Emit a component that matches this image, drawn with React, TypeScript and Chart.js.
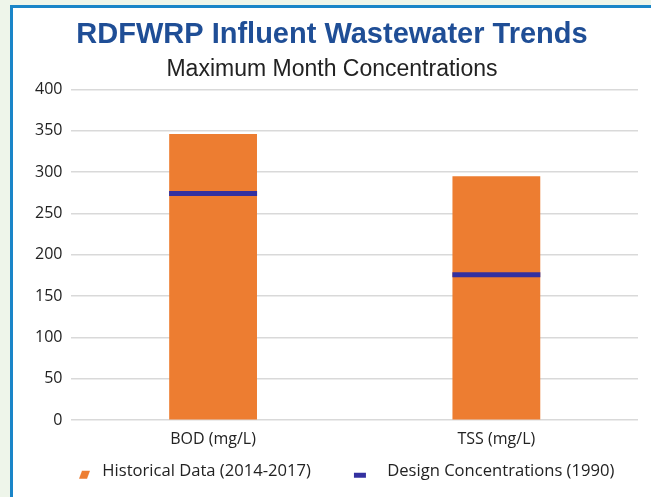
import React, { useEffect, useRef } from "react";
import { Chart, registerables } from "chart.js";

Chart.register(...registerables);

const categories = ["BOD (mg/L)", "TSS (mg/L)"];
const historicalValues = [346, 295];
const designValues = [274, 176];
const seriesNames = ["Historical Data (2014-2017)", "Design Concentrations (1990)"];
const titleText = "RDFWRP Influent Wastewater Trends";
const subtitleText = "Maximum Month Concentrations";

const ORANGE = "#ed7d31";
const BLUE = "#3330a0";
const FONT = "'Open Sans', sans-serif";
const MARK_W = 56;

function makeMarker(kind: "para" | "bar"): HTMLCanvasElement {
  const c = document.createElement("canvas");
  c.width = MARK_W;
  c.height = 24;
  const g = c.getContext("2d")!;
  if (kind === "para") {
    g.fillStyle = ORANGE;
    g.beginPath();
    g.moveTo(41, 19);
    g.lineTo(44, 11);
    g.lineTo(52, 11);
    g.lineTo(49, 19);
    g.closePath();
    g.fill();
  } else {
    g.fillStyle = BLUE;
    g.fillRect(31, 13, 12, 5);
  }
  return c;
}

export default function App() {
  const ref = useRef<HTMLCanvasElement | null>(null);
  useEffect(() => {
    if (!ref.current) return;
    const markers = [makeMarker("para"), makeMarker("bar")];
    const chart = new Chart(ref.current, {
      type: "bar",
      data: {
        labels: categories,
        datasets: [
          {
            type: "bar",
            label: seriesNames[0],
            data: historicalValues,
            backgroundColor: ORANGE,
            borderWidth: 0,
            barPercentage: 0.31,
            categoryPercentage: 1,
            order: 1,
          },
          {
            type: "line",
            label: seriesNames[1],
            data: designValues,
            showLine: false,
            backgroundColor: BLUE,
            borderColor: BLUE,
            pointStyle: "line",
            pointRadius: 44,
            pointHoverRadius: 44,
            pointBorderWidth: 5,
            pointBorderColor: BLUE,
            clip: false,
            order: 0,
          } as any,
        ],
      },
      options: {
        animation: false,
        responsive: false,
        layout: { autoPadding: false, padding: { left: 13, right: 13, top: 8, bottom: 7 } },
        plugins: {
          title: {
            display: true,
            text: titleText,
            color: "#1f4e96",
            font: { family: "'Liberation Sans', sans-serif", size: 29, weight: "bold" },
            padding: { top: 2, bottom: 3 },
          },
          subtitle: {
            display: true,
            text: subtitleText,
            color: "#222222",
            font: { family: "'Liberation Sans', sans-serif", size: 23 },
            padding: { bottom: 6 },
          },
          legend: {
            position: "bottom",
            align: "start",
            labels: {
              color: "#222222",
              font: { family: FONT, size: 16.6 },
              usePointStyle: true,
              pointStyleWidth: MARK_W,
              boxHeight: 16,
              padding: 12,
              sort: (a: any, b: any) => a.datasetIndex - b.datasetIndex,
              generateLabels: (c: any) => {
                const items = Chart.defaults.plugins.legend.labels.generateLabels(c);
                return items.map((it: any) => ({
                  ...it,
                  pointStyle: markers[it.datasetIndex],
                  strokeStyle: "transparent",
                  lineWidth: 0,
                }));
              },
            },
          },
          tooltip: { enabled: false },
        },
        scales: {
          x: {
            grid: { display: false },
            border: { display: false },
            ticks: { color: "#222222", font: { family: FONT, size: 16 }, padding: 2 },
          },
          y: {
            min: 0,
            max: 400,
            ticks: { stepSize: 50, color: "#222222", font: { family: FONT, size: 16 }, padding: 9 },
            grid: { color: "#d9d9d9", lineWidth: 1.5, drawTicks: false },
            border: { display: false },
          },
        },
      },
    });
    return () => chart.destroy();
  }, []);

  return (
    <div style={{ position: "fixed", inset: 0, background: "#eef5ea" }}>
      <div
        style={{
          position: "absolute",
          left: 10,
          top: 5,
          width: 638,
          height: 489,
          background: "#ffffff",
          borderLeft: "3px solid #1a85c8",
          borderTop: "3px solid #1a85c8",
        }}
      >
        <canvas ref={ref} width={638} height={489} style={{ display: "block", width: 638, height: 489 }} />
      </div>
    </div>
  );
}
